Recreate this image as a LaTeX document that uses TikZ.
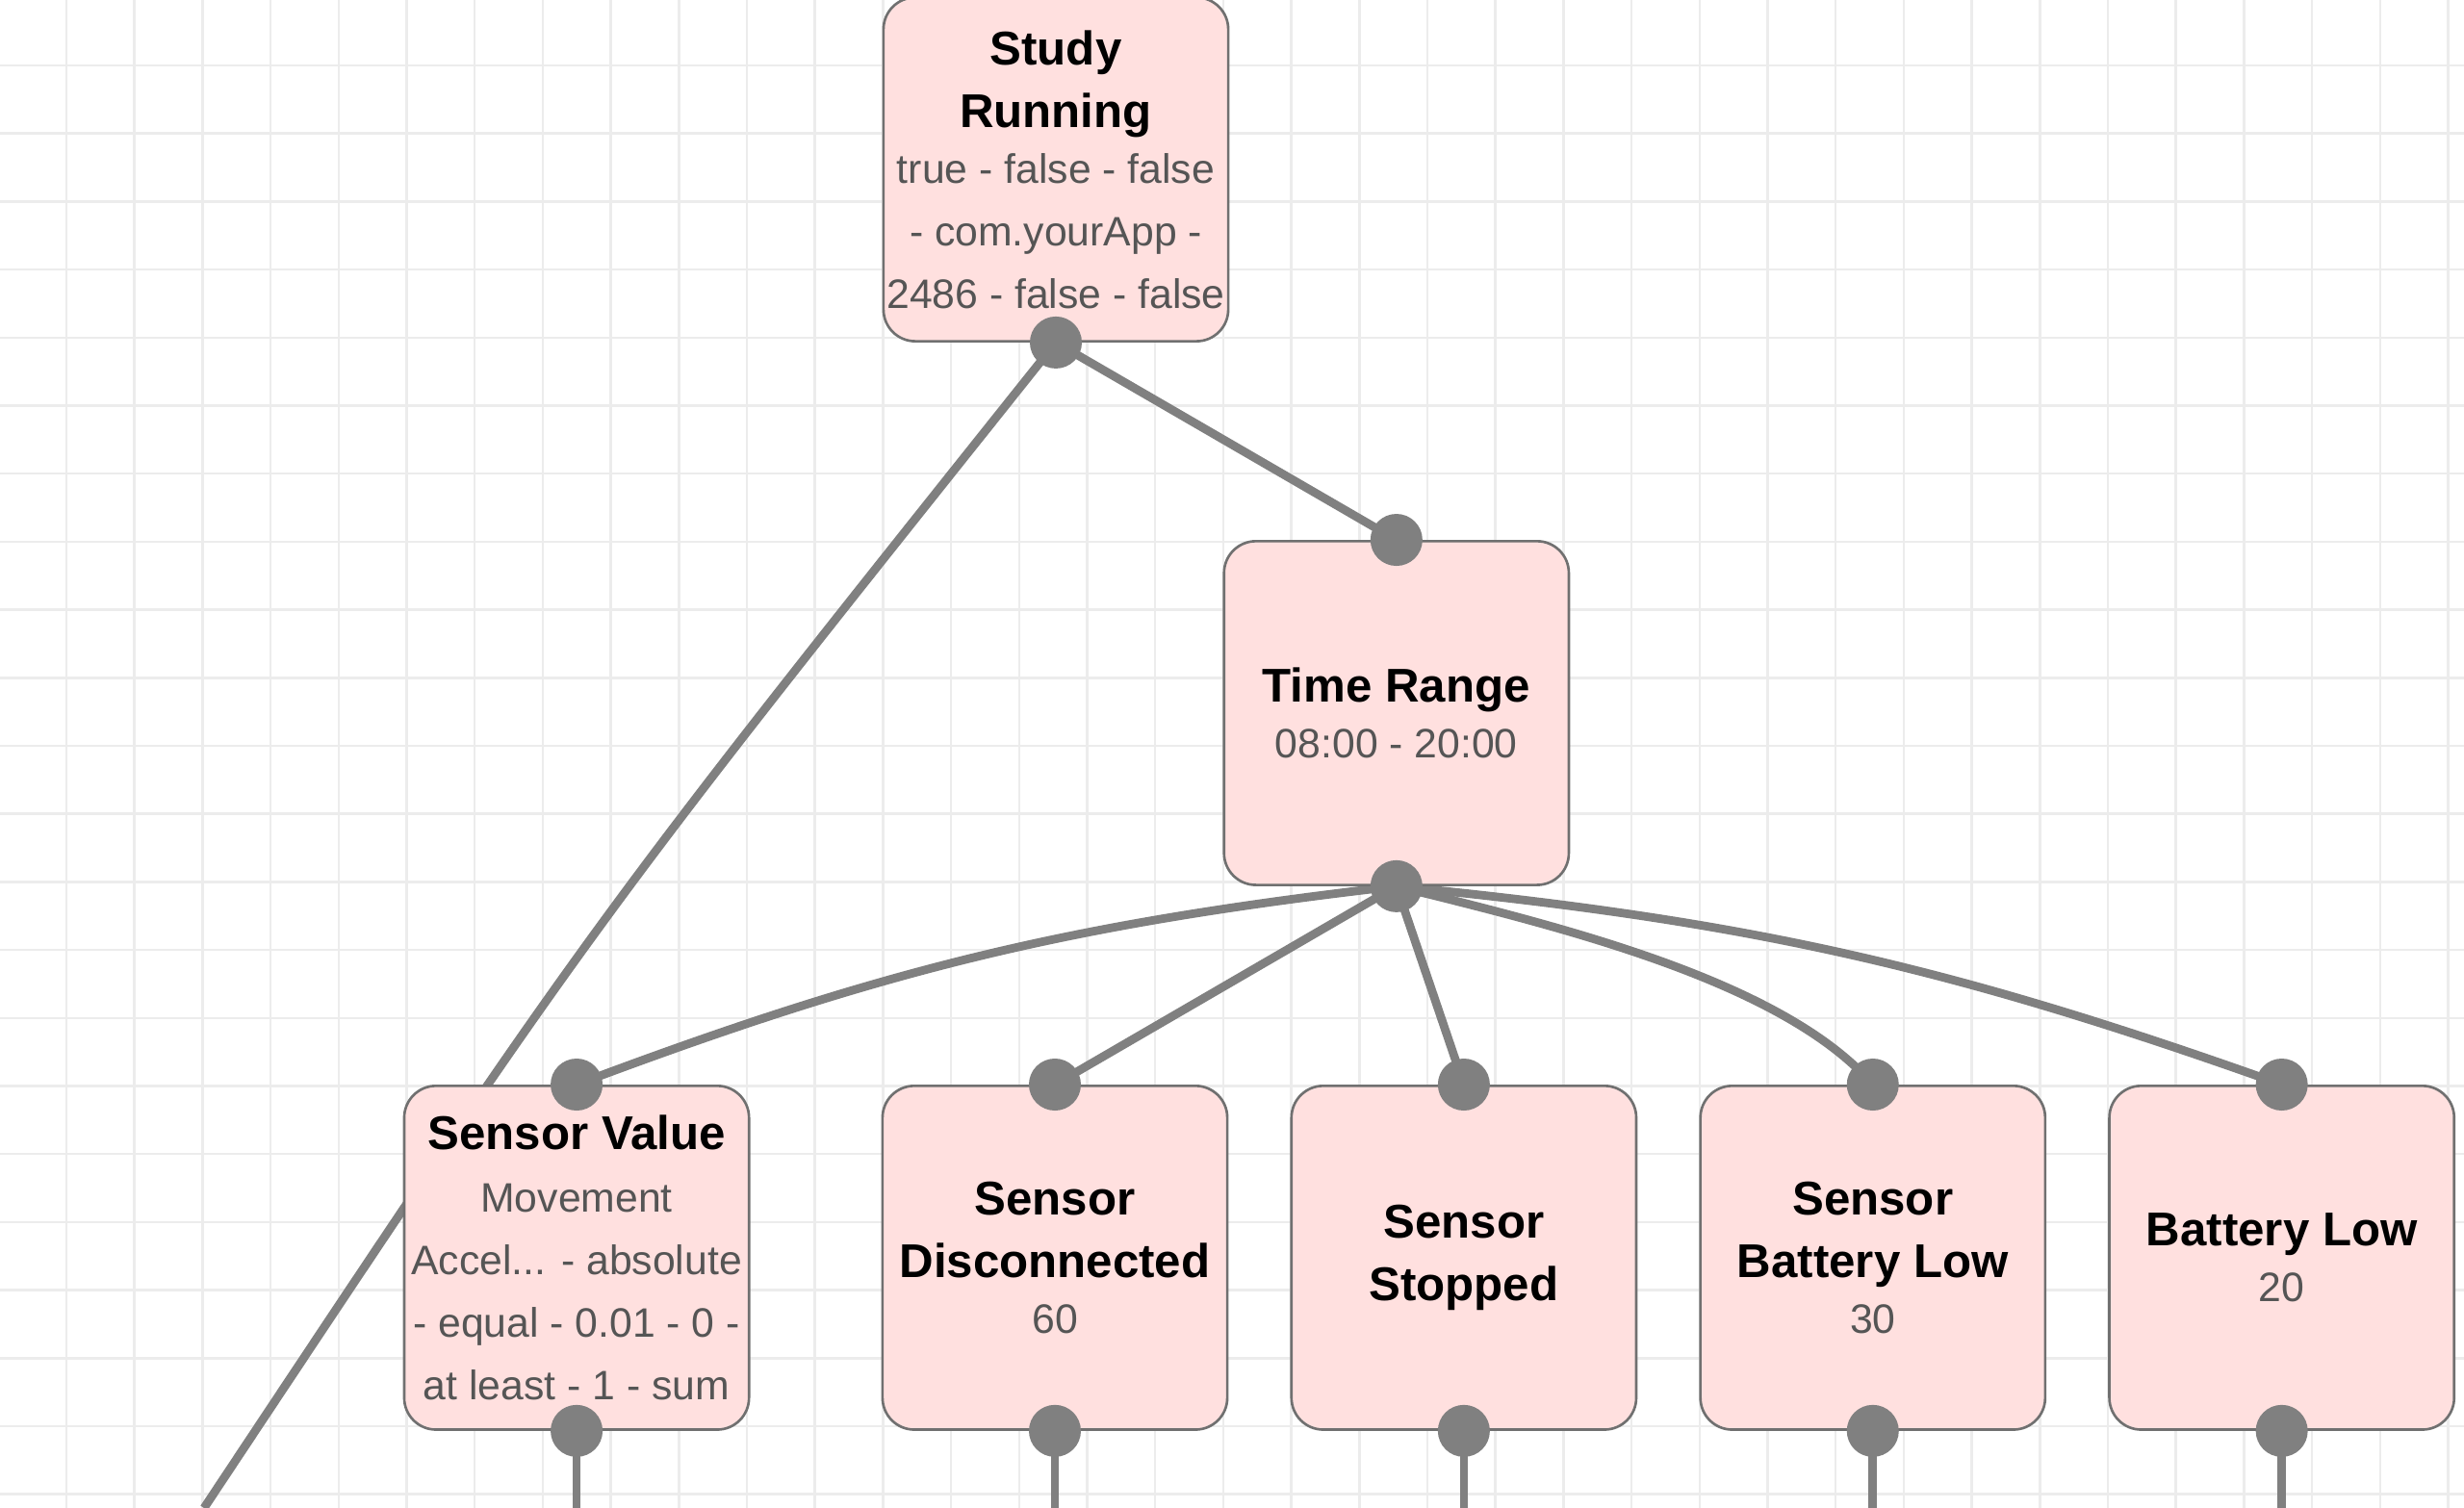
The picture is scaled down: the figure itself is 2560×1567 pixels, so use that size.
\documentclass[tikz,border=0pt]{standalone}
\usepackage{fontspec}
\setmainfont{Liberation Sans}
\usetikzlibrary{positioning}
\pgfdeclarelayer{grid}
\pgfdeclarelayer{wires}
\pgfsetlayers{grid,wires,main}
\definecolor{cardfill}{RGB}{255,224,223}
\definecolor{cardline}{RGB}{112,112,112}
\definecolor{wiregray}{RGB}{128,128,128}
\definecolor{subtext}{RGB}{85,85,85}
\definecolor{gridgray}{RGB}{236,236,236}
\newcommand{\cardtitle}[1]{{\fontsize{14}{18.5}\selectfont\bfseries\color{black}#1}}

\begin{document}
\begin{tikzpicture}[
  x=0.01cm,y=-0.01cm,
  node distance=2.06cm and 0.64cm,
  card/.style={draw=cardline,line width=0.75pt,fill=cardfill,rounded corners=0.33cm,
    minimum width=3.58cm,inner xsep=0pt,inner ysep=0pt,minimum height=3.57cm,
    align=center,text=subtext,font=\fontsize{12.15}{18.5}\selectfont},
  dot/.style={circle,fill=wiregray,inner sep=0pt,minimum size=0.54cm},
  link/.style={draw=wiregray,line width=2.5pt},
  gridline/.style={draw=gridgray,line width=0.7pt}
]
  \useasboundingbox (0,0) rectangle (2560,1567);
  \begin{pgfonlayer}{grid}
    \fill[white] (0,0) rectangle (2560,1567);
    \foreach \i in {0,...,35} \draw[gridline] (69+70.7*\i,0) -- ++(0,1567);
    \foreach \j in {0,...,21} \draw[gridline] (0,68+70.7*\j) -- ++(2560,0);
  \end{pgfonlayer}

  % cards
  \node[card] (sr) at (1097,176) {\cardtitle{Study}\\\cardtitle{Running}\\[-2pt]true - false - false\\- com.yourApp -\\2486 - false - false};
  \node[card,below right=2.05cm and -0.07cm of sr] (tr) {\cardtitle{Time Range}\\[-2pt]08:00 - 20:00};
  \node[card,below=of tr,xshift=0.7cm] (ss) {\cardtitle{Sensor}\\\cardtitle{Stopped}};
  \node[card,left=of ss] (sd) {\cardtitle{Sensor}\\\cardtitle{Disconnected}\\[-2pt]60};
  \node[card,left=1.36cm of sd] (sv) {\cardtitle{Sensor Value}\\Movement\\Accel... - absolute\\- equal - 0.01 - 0 -\\at least - 1 - sum};
  \node[card,right=of ss] (sbl) {\cardtitle{Sensor}\\\cardtitle{Battery Low}\\[-2pt]30};
  \node[card,right=of sbl] (bl) {\cardtitle{Battery Low}\\[-2pt]20};

  % endpoints
  \node[dot] (sr-b) at (sr.south) {};
  \node[dot] (tr-t) at (tr.north) {};
  \node[dot] (tr-b) at (tr.south) {};
  \foreach \n in {sv,sd,ss,sbl,bl} {
    \node[dot] (\n-t) at (\n.north) {};
    \node[dot] (\n-b) at (\n.south) {};
  }
  \coordinate (floor) at (0,1567);
  \coordinate (sr-exit) at (212,1567);

  % connectors
  \begin{pgfonlayer}{wires}
    \draw[link] (sr-b.center) -- (tr-t.center);
    \draw[link] (sr-b.center) .. controls +(-482,604) .. (sr-exit);
    \draw[link] (tr-b.center) to[bend right=7] (sv-t.center);
    \draw[link] (tr-b.center) -- (sd-t.center);
    \draw[link] (tr-b.center) -- (ss-t.center);
    \draw[link] (tr-b.center) .. controls +(170,42) and +(-94,-108) .. (sbl-t.center);
    \draw[link] (tr-b.center) to[bend left=7] (bl-t.center);
    \foreach \n in {sv,sd,ss,sbl,bl} \draw[link] (\n-b.center) -- (\n-b.center |- floor);
  \end{pgfonlayer}
\end{tikzpicture}
\end{document}
